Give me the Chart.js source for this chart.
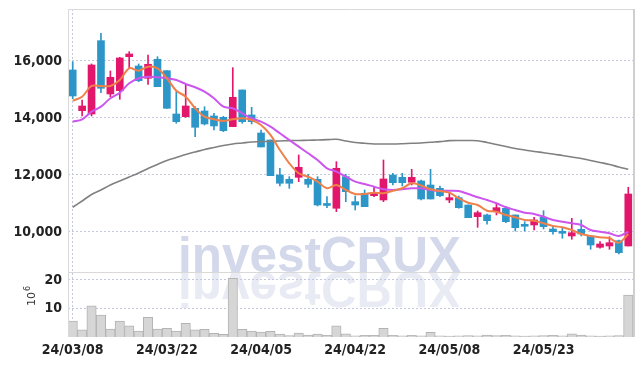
<!DOCTYPE html>
<html><head><meta charset="utf-8">
<script src="https://cdn.jsdelivr.net/npm/chart.js@4.4.1/dist/chart.umd.min.js"></script>
<style>html,body{margin:0;padding:0;background:#fff;}#wrap{width:642px;height:366px;position:relative;}</style>
</head><body><div id="wrap"><canvas id="c" width="642" height="366"></canvas></div>
<script>
const dates = ['24/03/08','24/03/11','24/03/12','24/03/13','24/03/14','24/03/15','24/03/18','24/03/19','24/03/20','24/03/21',
'24/03/22','24/03/25','24/03/26','24/03/27','24/03/28','24/03/29','24/04/01','24/04/02','24/04/03','24/04/04',
'24/04/05','24/04/08','24/04/09','24/04/11','24/04/12','24/04/15','24/04/16','24/04/17','24/04/18','24/04/19',
'24/04/22','24/04/23','24/04/24','24/04/25','24/04/26','24/04/29','24/04/30','24/05/02','24/05/03','24/05/07',
'24/05/08','24/05/09','24/05/10','24/05/13','24/05/14','24/05/16','24/05/17','24/05/20','24/05/21','24/05/22',
'24/05/23','24/05/24','24/05/27','24/05/28','24/05/29','24/05/30','24/05/31','24/06/03','24/06/04','24/06/05'];
const opens = [15684,14256,14141,16713,14842,14958,16151,15825,15393,16060,
15660,14141,14046,14339,14246,14070,14023,13697,14983,14106,
13474,13228,12000,11849,11919,11849,11849,10950,10832,11941,
11063,11357,11274,11123,12000,11919,11744,11790,11649,11533,
11123,11204,10947,10537,10597,10713,10832,10597,10220,10246,
10516,10105,9970,9860,10094,9860,9463,9509,9695,9509];
const highs = [15976,14632,15895,16973,15650,16130,16327,15895,16211,16151,
15660,14923,15158,14397,14397,14165,14060,15765,14983,14376,
13579,13228,12235,11941,12702,12025,11941,11239,12467,12025,
11263,11474,11591,12526,12060,12060,12200,11825,12200,11614,
11357,11263,10947,10737,10632,11007,10888,10597,10361,10516,
10747,10186,10130,10480,10421,9860,9660,9835,9719,11568];
const lows = [14676,14070,14070,14888,14748,14656,15744,15274,15182,15099,
14339,13814,14023,13344,13755,13579,13520,13697,13814,13790,
12983,11976,11614,11533,11765,11568,10912,10853,10713,11063,
10772,10888,11239,11063,11649,11614,11649,11123,11158,11239,
11028,10832,10502,10164,10270,10597,10326,10035,10035,10070,
10105,9919,9779,9744,9860,9393,9428,9393,9228,9509];
const closes = [14772,14421,15860,15042,15428,16106,16246,15309,15884,15099,
14339,13871,14421,13674,13790,13720,13555,14726,13871,13871,
12983,11976,11709,11709,12270,11674,10947,10930,12235,11414,
10947,10888,11357,11860,11730,11730,11919,11158,11158,11274,
11204,10853,10502,10677,10397,10853,10361,10151,10200,10421,
10186,10011,9955,9975,9930,9544,9579,9625,9274,11333];
const ma5 = [14607,14748,15123,15123,15123,15334,15744,15660,15800,15744,
15393,14958,14748,14341,14046,13955,13895,13955,13990,13930,
13755,13404,12877,12411,12060,11940,11765,11533,11649,11474,
11333,11333,11379,11358,11449,11533,11709,11632,11498,11439,
11379,11183,11028,10947,10747,10712,10597,10516,10421,10397,
10305,10211,10165,10070,9930,9860,9814,9779,9625,9930];
const ma20 = [13870,13955,14221,14397,14692,14888,15218,15393,15450,15428,
15393,15334,15193,15078,14923,14692,14397,14341,14165,13990,
13870,13695,13463,13228,12993,12762,12526,12235,12116,11940,
11765,11684,11590,11498,11474,11498,11533,11533,11474,11439,
11449,11439,11333,11218,11123,11007,10867,10772,10677,10632,
10537,10421,10361,10305,10246,10070,10011,9954,9860,10011];
const ma60 = [10867,11088,11316,11474,11649,11790,11930,12070,12228,12369,
12509,12614,12719,12807,12895,12965,13035,13088,13123,13158,
13169,13183,13193,13204,13211,13218,13228,13239,13253,13193,
13141,13112,13088,13088,13088,13098,13112,13123,13148,13169,
13204,13211,13211,13204,13141,13070,13000,12930,12877,12825,
12783,12737,12684,12632,12579,12509,12439,12369,12281,12200];
const volumes = [5.6,2.5,10.9,7.7,2.8,5.6,3.9,2.1,6.9,2.8,
3.0,2.1,4.8,2.5,2.7,1.3,0.9,20.6,2.7,2.1,
1.7,2.0,1.0,0.5,1.4,0.7,1.0,0.6,3.9,1.1,
0.4,0.6,0.6,3.0,0.6,0.4,0.6,0.4,1.6,0.4,
0.3,0.4,0.5,0.4,0.7,0.5,0.6,0.4,0.3,0.4,
0.5,0.6,0.4,1.1,0.7,0.4,0.3,0.4,0.5,14.7];
const priceTicks = [10000,12000,14000,16000];
const volumeTicks = [10,20];

const RED = '#e2176b', BLUE = '#2c96c8';
const isUp = i => closes[i] >= opens[i];
const candleColor = ctx => isUp(ctx.dataIndex) ? RED : BLUE;
const GRID = '#c3c8dc';
const TICKFONT = {family:"'Liberation Sans Narrow','DejaVu Sans Condensed',sans-serif", weight:'bold', size:14};
const noPad = s => { s.paddingTop = 0; s.paddingBottom = 0; s.paddingLeft = 0; s.paddingRight = 0; };

const deco = {
  id:'deco',
  beforeDraw(chart){
    const ctx = chart.ctx;
    ctx.save();
    ctx.font = "bold 50px 'Liberation Sans', Arial, sans-serif";
    const w = ctx.measureText('investCRUX').width;
    const sx = 283 / w;
    ctx.translate(178, 272);
    ctx.scale(sx, 1);
    ctx.fillStyle = '#d3d8ea';
    ctx.textBaseline = 'alphabetic';
    ctx.fillText('investCRUX', 0, 0);
    ctx.scale(1, -1);
    ctx.fillStyle = '#e9ebf4';
    ctx.fillText('investCRUX', 0, 0);
    ctx.restore();
  },
  afterDraw(chart){
    const ctx = chart.ctx, a = chart.chartArea;
    const yv = chart.scales.yv;
    ctx.save();
    ctx.strokeStyle = '#d9d9d9';
    ctx.lineWidth = 1;
    ctx.beginPath();
    ctx.moveTo(a.left, a.top + 0.5); ctx.lineTo(a.right, a.top + 0.5);
    ctx.moveTo(a.left + 0.5, a.top); ctx.lineTo(a.left + 0.5, a.bottom);
    ctx.moveTo(a.left, Math.round(yv.top) + 0.5); ctx.lineTo(a.right, Math.round(yv.top) + 0.5);
    ctx.stroke();
    ctx.strokeStyle = '#cfcfcf';
    ctx.lineWidth = 2;
    ctx.beginPath();
    ctx.moveTo(a.right + 1, a.top); ctx.lineTo(a.right + 1, a.bottom);
    ctx.stroke();
    ctx.translate(35, 306);
    ctx.rotate(-Math.PI/2);
    ctx.fillStyle = '#333';
    ctx.font = "11px 'DejaVu Sans', sans-serif";
    ctx.textBaseline = 'alphabetic';
    ctx.fillText('10', 0, 0);
    const w = ctx.measureText('10').width;
    ctx.font = "8px 'DejaVu Sans', sans-serif";
    ctx.fillText('6', w + 1, -5);
    ctx.restore();
  }
};

new Chart(document.getElementById('c'), {
  type: 'bar',
  data: {
    labels: dates,
    datasets: [
      {type:'line', label:'MA5', data:ma5, yAxisID:'y', borderColor:'#f0804a', borderWidth:2, pointRadius:0, tension:0.35, order:0},
      {type:'line', label:'MA20', data:ma20, yAxisID:'y', borderColor:'#cc55ee', borderWidth:2, pointRadius:0, tension:0.35, order:0},
      {type:'line', label:'MA60', data:ma60, yAxisID:'y', borderColor:'#808080', borderWidth:1.6, pointRadius:0, tension:0.35, order:0},
      {type:'bar', label:'wick', data:lows.map((l,i)=>[l, highs[i]]), yAxisID:'y', backgroundColor:candleColor, barThickness:1, grouped:false, order:2},
      {type:'bar', label:'body', data:opens.map((o,i)=>[o, closes[i]]), yAxisID:'y', backgroundColor:candleColor, barThickness:7, minBarLength:2, grouped:false, order:1},
      {type:'bar', label:'volume', data:volumes, yAxisID:'yv', backgroundColor:'#d6d6d6', borderColor:'#b3b3b3', borderWidth:1, barPercentage:1, categoryPercentage:1, grouped:false, order:3}
    ]
  },
  options: {
    responsive:false, animation:false,
    layout:{padding:{left:0, right:9, top:9, bottom:0}},
    plugins:{legend:{display:false}, tooltip:{enabled:false}},
    scales:{
      x:{type:'category', offset:true,
        grid:{offset:false, drawTicks:false, color:c => (c.index % 10 === 0) ? GRID : 'rgba(0,0,0,0)'},
        border:{display:false, dash:[2,2]},
        ticks:{autoSkip:false, maxRotation:0, padding:5, color:'#222', font:TICKFONT,
          callback:(v,i) => (i % 10 === 0) ? dates[i] : null},
        afterFit:s => { s.height = 29; noPad(s); }},
      yv:{position:'left', stack:'panes', stackWeight:65, min:0, max:22.8,
        grid:{drawTicks:false, color:GRID}, border:{display:false, dash:[2,2]},
        ticks:{padding:6, color:'#222', font:TICKFONT, callback:v => String(v)},
        afterBuildTicks:s => { s.ticks = volumeTicks.map(v => ({value:v})); },
        afterFit:s => { s.width = 68; noPad(s); }},
      y:{position:'left', stack:'panes', stackWeight:263, min:8596, max:17824,
        grid:{drawTicks:false, color:GRID}, border:{display:false, dash:[2,2]},
        ticks:{padding:6, color:'#222', font:TICKFONT, callback:v => v.toLocaleString('en-US')},
        afterBuildTicks:s => { s.ticks = priceTicks.map(v => ({value:v})); },
        afterFit:s => { s.width = 68; noPad(s); }}
    }
  },
  plugins:[deco]
});
</script></body></html>
